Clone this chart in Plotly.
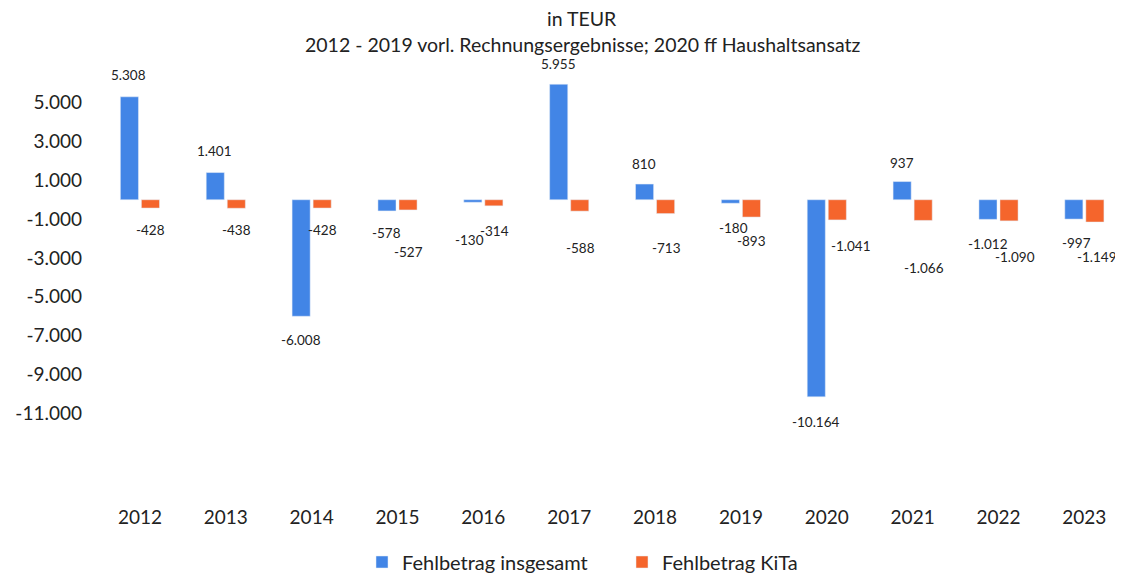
import plotly.graph_objects as go

# ---- data (TEUR) ----
YEARS = ["2012", "2013", "2014", "2015", "2016", "2017",
         "2018", "2019", "2020", "2021", "2022", "2023"]
FEHL_GESAMT = [5308, 1401, -6008, -578, -130, 5955, 810, -180, -10164, 937, -1012, -997]
FEHL_KITA = [-428, -438, -428, -527, -314, -588, -713, -893, -1041, -1066, -1090, -1149]
Y_TICKS = [5000, 3000, 1000, -1000, -3000, -5000, -7000, -9000, -11000]

BLUE = "#4285e6"
ORANGE = "#f5652c"
FONT = "Lato"

# the page body adds an 8px margin, so the figure is drawn 8px smaller
OFF = 8
W, H = 1123 - OFF, 575 - OFF
# plot box (page pixels: left 97, top 64, bottom 504, right edge)
L, R, T, B = 97 - OFF, 0, 64 - OFF, 575 - 504

# label offsets in pixels (distance from bar end, x nudge) - styling only
GESAMT_DY = [22, 22, 24, 22, 38, 20, 20, 25, 25, 19, 25, 24]
GESAMT_DX = [0, 0, 0, 0, -3, 0, 0, 4, 0, 0, 0, 3]
KITA_DY = [22, 22, 22, 42, 25, 37, 34, 24, 26, 48, 36, 35]
KITA_DX = [0, 0, 0, 0, 0, 0, 0, 0, 13, 0, 5, 2]


def de(v):
    return f"{v:,}".replace(",", ".")


def px_to_paper(x, y):
    # page pixel -> paper coords
    x, y = x - OFF, y - OFF
    return (x - L) / (W - L - R), (H - B - y) / (H - T - B)


fig = go.Figure()
fig.add_trace(go.Bar(x=YEARS, y=FEHL_GESAMT, name="Fehlbetrag insgesamt",
                     marker_color=BLUE))
fig.add_trace(go.Bar(x=YEARS, y=FEHL_KITA, name="Fehlbetrag KiTa",
                     marker_color=ORANGE))

annos = []
for i, v in enumerate(FEHL_GESAMT):
    annos.append(dict(x=i, y=v, xref="x", yref="y", text=de(v), showarrow=False,
                      xshift=-11 + GESAMT_DX[i],
                      yshift=GESAMT_DY[i] if v > 0 else -GESAMT_DY[i],
                      font=dict(size=13.5, color="#222")))
for i, v in enumerate(FEHL_KITA):
    annos.append(dict(x=i, y=v, xref="x", yref="y", text=de(v), showarrow=False,
                      xshift=11 + KITA_DX[i],
                      yshift=KITA_DY[i] if v > 0 else -KITA_DY[i],
                      font=dict(size=13.5, color="#222")))

for txt, ypx in [("in TEUR", 19),
                 ("2012 - 2019 vorl. Rechnungsergebnisse; 2020 ff Haushaltsansatz", 45)]:
    ax, ay = px_to_paper(582, ypx)
    annos.append(dict(x=ax, y=ay, xref="paper", yref="paper", text=txt,
                      showarrow=False, yanchor="middle",
                      font=dict(size=19.5, color="#222")))

fig.update_layout(
    width=W, height=H,
    margin=dict(l=L, r=R, t=T, b=B),
    paper_bgcolor="white", plot_bgcolor="white",
    font=dict(family=FONT, size=19, color="#222"),
    separators=",.",
    barmode="group", bargap=0.51, bargroupgap=0.14,
    showlegend=True,
    legend=dict(orientation="h", xref="container", yref="container",
                x=(622 - OFF) / W, y=1 - (562 - OFF) / H,
                xanchor="center", yanchor="middle",
                itemwidth=30, entrywidth=215,
                font=dict(size=20), itemclick=False),
    annotations=annos,
)
fig.update_xaxes(type="category", range=[-0.5, 11.45], showgrid=False,
                 showline=False, zeroline=False, ticks="", tickfont=dict(size=19))
fig.update_yaxes(range=[-15690, 7000], tickvals=Y_TICKS,
                 ticktext=[de(t) for t in Y_TICKS], showgrid=False,
                 showline=False, zeroline=False, ticks="",
                 ticklabelstandoff=14, tickfont=dict(size=19))

fig.write_html("out.html")
